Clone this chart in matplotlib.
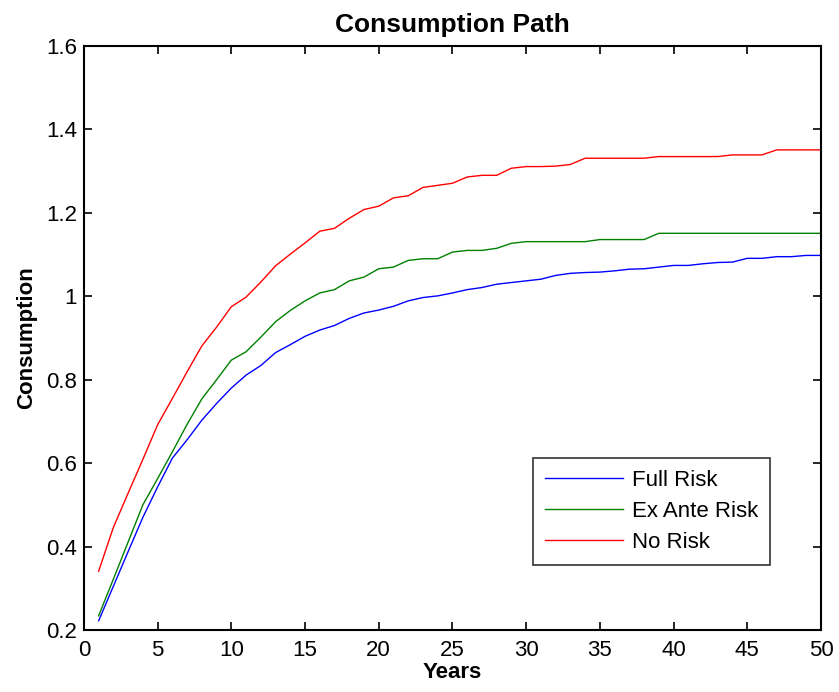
import numpy as np
import matplotlib
matplotlib.use("Agg")
import matplotlib.pyplot as plt

years = list(range(1, 51))

full_risk = [
    0.222, 0.305, 0.388, 0.470, 0.543, 0.612, 0.656, 0.703, 0.743, 0.780,
    0.811, 0.834, 0.865, 0.884, 0.904, 0.919, 0.930, 0.947, 0.960, 0.967,
    0.976, 0.989, 0.997, 1.001, 1.008, 1.016, 1.021, 1.029, 1.033, 1.037,
    1.041, 1.050, 1.055, 1.057, 1.058, 1.061, 1.065, 1.066, 1.070, 1.074,
    1.074, 1.078, 1.081, 1.082, 1.091, 1.091, 1.095, 1.095, 1.098, 1.098,
]
ex_ante_risk = [
    0.234, 0.322, 0.411, 0.500, 0.563, 0.627, 0.693, 0.754, 0.800, 0.847,
    0.867, 0.902, 0.939, 0.966, 0.989, 1.008, 1.016, 1.037, 1.046, 1.066,
    1.070, 1.086, 1.090, 1.090, 1.106, 1.110, 1.110, 1.115, 1.127, 1.131,
    1.131, 1.131, 1.131, 1.131, 1.136, 1.136, 1.136, 1.136, 1.151, 1.151,
    1.151, 1.151, 1.151, 1.151, 1.151, 1.151, 1.151, 1.151, 1.151, 1.151,
]
no_risk = [
    0.341, 0.446, 0.528, 0.609, 0.692, 0.755, 0.819, 0.881, 0.926, 0.975,
    0.998, 1.034, 1.073, 1.101, 1.128, 1.156, 1.163, 1.187, 1.208, 1.216,
    1.236, 1.241, 1.261, 1.266, 1.271, 1.286, 1.290, 1.290, 1.307, 1.311,
    1.311, 1.312, 1.316, 1.331, 1.331, 1.331, 1.331, 1.331, 1.335, 1.335,
    1.335, 1.335, 1.335, 1.339, 1.339, 1.339, 1.351, 1.351, 1.351, 1.351,
]

series = [
    ("Full Risk", full_risk, "#0000ff"),
    ("Ex Ante Risk", ex_ante_risk, "#008000"),
    ("No Risk", no_risk, "#ff0000"),
]

plt.rcParams["font.family"] = ["Liberation Sans", "DejaVu Sans"]

fig = plt.figure(figsize=(8.39, 6.92), dpi=100)
ax = fig.add_axes([0.100, 0.0896, 0.8785, 0.8439])

for label, values, color in series:
    ax.plot(years, values, color=color, linewidth=1.0, label=label)

ax.set_xlim(0, 50)
ax.set_ylim(0.2, 1.6)
ax.set_xticks(np.arange(0, 51, 5))
ax.set_yticks([0.2, 0.4, 0.6, 0.8, 1.0, 1.2, 1.4, 1.6])
ax.set_yticklabels(["0.2", "0.4", "0.6", "0.8", "1", "1.2", "1.4", "1.6"])

ax.tick_params(direction="in", length=6, width=1.2, labelsize=16,
               top=True, right=True)
ax.tick_params(axis="x", pad=7)
ax.tick_params(axis="y", pad=5)
for spine in ax.spines.values():
    spine.set_linewidth(1.5)

ax.set_title("Consumption Path", fontsize=19, fontweight="bold", pad=10)
ax.set_xlabel("Years", fontsize=16, fontweight="bold", labelpad=1)
ax.set_ylabel("Consumption", fontsize=16, fontweight="bold", labelpad=6)

leg = ax.legend(loc="lower right", bbox_to_anchor=(0.931, 0.111),
                fontsize=16, frameon=True, fancybox=False,
                handlelength=3.5, handletextpad=0.4, labelspacing=0.45,
                borderpad=0.55, borderaxespad=0)
leg.get_frame().set_edgecolor("black")
leg.get_frame().set_linewidth(1.2)

fig.savefig("out.png", dpi=100)
